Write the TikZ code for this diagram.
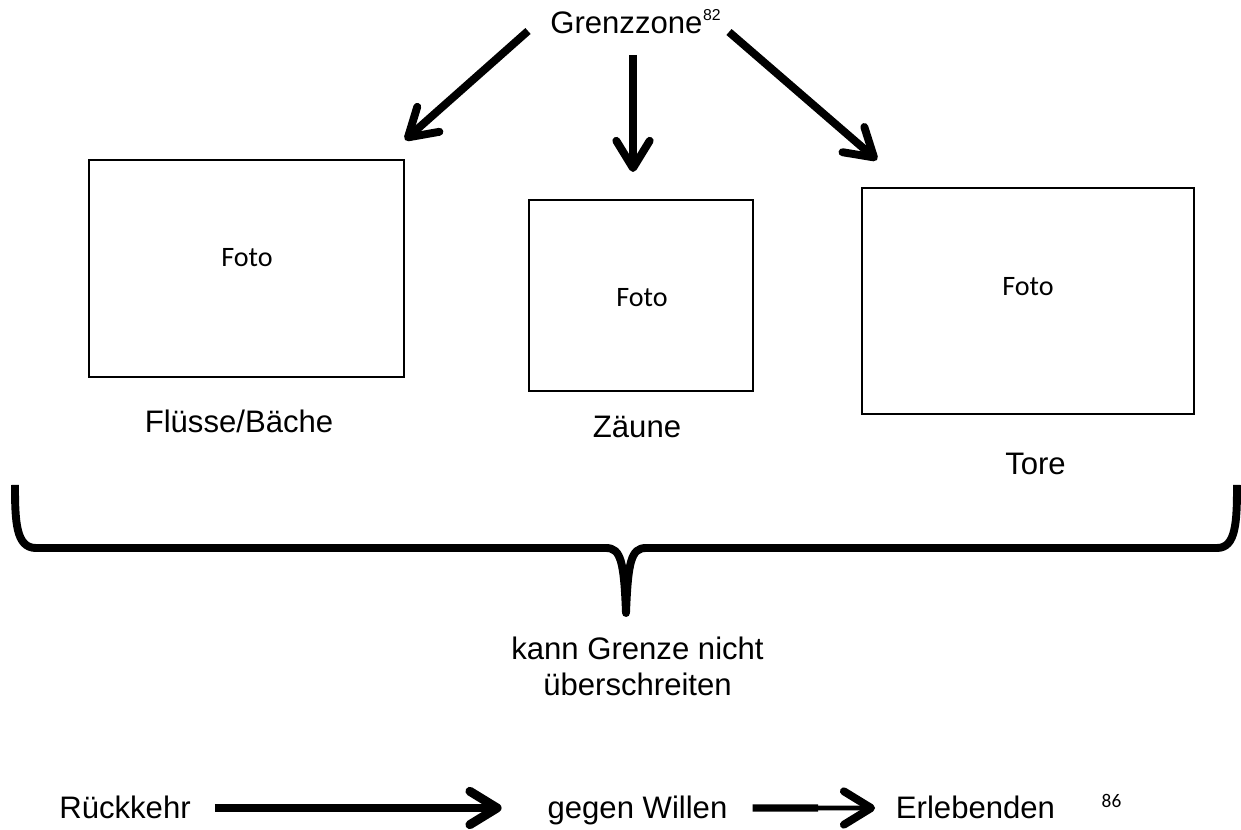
\documentclass[tikz,border=0pt]{standalone}
\usepackage{fontspec}
\setmainfont{Liberation Sans}
\newfontfamily\fotofont{Carlito}
\usetikzlibrary{arrows.meta}

\begin{document}
\begin{tikzpicture}[x=0.02cm,y=-0.02cm]
    \tikzstyle{every node}+=[inner sep=0pt]
    \tikzstyle{txt}=[font=\fontsize{17.7}{20.4}\selectfont, anchor=base]
    \tikzstyle{foto}=[font=\fotofont\fontsize{16}{19}\selectfont, anchor=base]
    \tikzstyle{bild}=[draw=black, line width=0.9pt]
    \tikzstyle{zeile}=[txt, text height=15.9pt, text depth=4.5pt]
    \tikzstyle{pfeil}=[line width=4.5pt, -{Straight Barb[round,length=15.5pt,width=19pt]}]
    \useasboundingbox (0,0) rectangle (1241,830);
    \node [txt, anchor=base west] (gz) at (550,34) {Grenzzone\kern0.3pt\raisebox{7.4pt}{\fontsize{9}{9}\selectfont 82}};
    \coordinate (l0) at (528,31);
    \coordinate (l1) at (405,140);
    \coordinate (m0) at (633,55);
    \coordinate (m1) at (633,172);
    \coordinate (r0) at (729,32);
    \coordinate (r1) at (877,160);
    \draw [pfeil] (l0) -- (l1);
    \draw [pfeil] (m0) -- (m1);
    \draw [pfeil] (r0) -- (r1);
    \node [bild, minimum width=6.3cm, minimum height=4.34cm] (b1) at (246.5,268.5) {};
    \node [bild, minimum width=4.48cm, minimum height=3.82cm] (b2) at (641,295.5) {};
    \node [bild, minimum width=6.64cm, minimum height=4.52cm] (b3) at (1028,301) {};
    \node [foto] (f1) at (247,267) {Foto};
    \node [foto] (f2) at (642,307) {Foto};
    \node [foto] (f3) at (1028,296) {Foto};
    \node [txt] (fl) at (239,433) {Flüsse/Bäche};
    \node [txt] (zz) at (637,438) {Zäune};
    \node [txt] (tr) at (1035.5,475) {Tore};
    \draw [line width=4.5pt, line join=round] (15,485) .. controls (15,522) and (16,548) .. (36,548) -- (606,548)
        .. controls (621,548) and (624,562) .. (626,613)
        .. controls (628,562) and (631,548) .. (646,548) -- (1217,548)
        .. controls (1236,548) and (1237,522) .. (1237,485);
    \node [txt, anchor=north, align=center] (kg) at (637.5,637) {kann Grenze nicht\\überschreiten};
    \node [zeile] (rk) at (125,818) {Rückkehr};
    \node [zeile] (gw) at (637.5,818) {gegen Willen};
    \node [zeile] (erl) at (975.5,818) {Erlebenden};
    \node [foto, font=\fotofont\fontsize{11}{13}\selectfont] (fn) at (1111.5,807) {86};
    \coordinate (stufe) at (818,808);
    \draw [pfeil, line width=5.1pt, shorten <=13.6pt, shorten >=26pt] (rk) -- (gw);
    \draw [line width=4.2pt, shorten <=14.2pt] (gw) -- (stufe);
    \draw [line width=2.7pt, shorten >=11.7pt, -{Straight Barb[round,length=15.5pt,width=19pt,line width=4.5pt]}] (stufe) -- (erl);
\end{tikzpicture}
\end{document}
